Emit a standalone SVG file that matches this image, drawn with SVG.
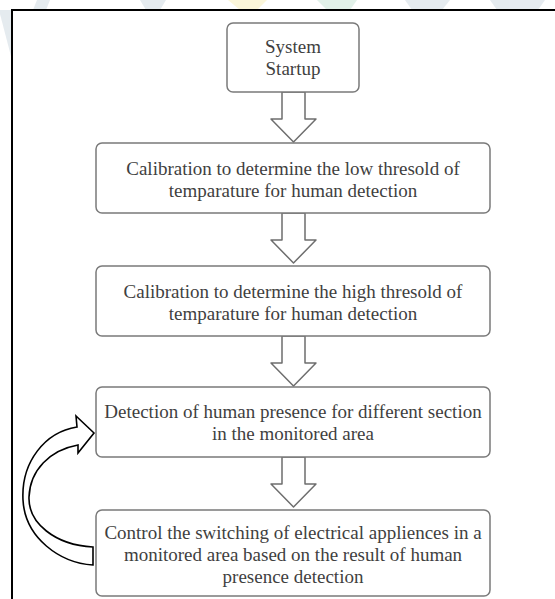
<svg xmlns="http://www.w3.org/2000/svg" width="555" height="599" viewBox="0 0 555 599">
  <style>
    .box { fill: #ffffff; stroke: #7a7a7a; stroke-width: 1.5; }
    .lbl { font-family: "Liberation Serif", "DejaVu Serif", serif; font-size: 19px; fill: #3f3f3f; text-anchor: middle; }
    .flow { fill: #ffffff; stroke: #6e6e6e; stroke-width: 1.5; stroke-linejoin: round; }
    .loop { fill: #ffffff; stroke: #000000; stroke-width: 1.6; stroke-linejoin: miter; }
  </style>
  <defs>
    <!-- block arrow pointing down, origin at the top centre of the shaft -->
    <path id="down" d="M-11.5,0 V27 H-22.5 L0,50 L22.5,27 H11.5 V0 Z"/>
  </defs>

  <!-- page background with faint logo fragments around the frame -->
  <rect width="555" height="599" fill="#ffffff"/>
  <g id="backdrop" opacity="0.9">
    <polygon points="0,14 0,10 12,10 12,60" fill="#e3e9ee"/>
    <polygon points="37,0 50,0 46,10 33,10" fill="#e3e9ee"/>
    <polygon points="140,0 166,0 160,10 146,10" fill="#e3e9ee"/>
    <polygon points="228,0 267,0 257,10 240,10" fill="#fbf6d6"/>
    <polygon points="317,0 357,0 350,10 327,10" fill="#dff0e7"/>
    <polygon points="405,0 450,0 442,10 412,10" fill="#e3e9ee"/>
    <polygon points="490,0 545,0 538,10 497,10" fill="#e3e9ee"/>
  </g>

  <!-- frame -->
  <rect id="frame" x="12" y="10" width="560" height="600" fill="#ffffff" stroke="#000000" stroke-width="2"/>

  <!-- connectors -->
  <g id="connectors">
    <use href="#down" class="flow" x="293.5" y="92"/>
    <use href="#down" class="flow" x="293.5" y="213"/>
    <use href="#down" class="flow" x="293.5" y="336"/>
    <use href="#down" class="flow" x="293.5" y="457"/>
    <!-- loop back from the control step to the detection step -->
    <path id="loop" class="loop" d="M93,565 C60,563 25,538 23,500 C21,462 45,432 77,427 L76,416 L94,433 L78,453 L78,445 C50,450 30,470 29,497 C28,523 55,545 93,547 Z"/>
  </g>

  <g id="startup">
    <rect class="box" x="227" y="23" width="132" height="69" rx="6"/>
    <text class="lbl" x="293" y="53">System</text>
    <text class="lbl" x="293" y="75">Startup</text>
  </g>

  <g id="low-threshold">
    <rect class="box" x="96" y="143" width="394" height="70" rx="6"/>
    <text class="lbl" x="293" y="175">Calibration to determine the low thresold of</text>
    <text class="lbl" x="293" y="197">temparature for human detection</text>
  </g>

  <g id="high-threshold">
    <rect class="box" x="96" y="266" width="394" height="70" rx="6"/>
    <text class="lbl" x="293" y="298">Calibration to determine the high thresold of</text>
    <text class="lbl" x="293" y="320">temparature for human detection</text>
  </g>

  <g id="detection">
    <rect class="box" x="96" y="387" width="394" height="70" rx="6"/>
    <text class="lbl" x="293" y="418">Detection of human presence for different section</text>
    <text class="lbl" x="293" y="440">in the monitored area</text>
  </g>

  <g id="control">
    <rect class="box" x="96" y="510" width="394" height="86" rx="6"/>
    <text class="lbl" x="293" y="539">Control the switching of electrical appliences in a</text>
    <text class="lbl" x="293" y="561">monitored area based on the result of human</text>
    <text class="lbl" x="293" y="583">presence detection</text>
  </g>
</svg>
